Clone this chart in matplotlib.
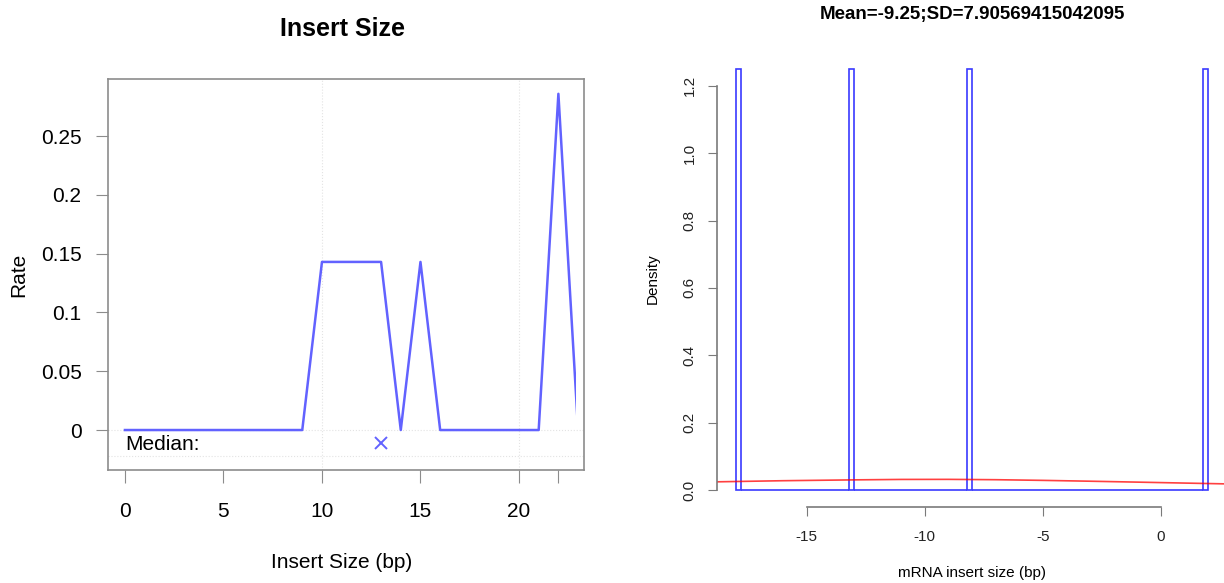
import matplotlib
matplotlib.use('Agg')
import matplotlib.pyplot as plt
import numpy as np
from matplotlib.patches import Rectangle

plt.rcParams['font.family'] = ['Liberation Sans', 'DejaVu Sans']
plt.rcParams['axes.unicode_minus'] = False

# left panel data (rate per insert size)
insert_size = list(range(0, 24))
rate = [0, 0, 0, 0, 0, 0, 0, 0, 0, 0,
        0.143, 0.143, 0.143, 0.143, 0, 0.143, 0,
        0, 0, 0, 0, 0, 0.286, 0]
median_x = 13
median_y = -0.011
left_xticks = [0, 5, 10, 15, 20, 22]
left_xticklabels = ['0', '5', '10', '15', '20', '']
left_yticks = [0, 0.05, 0.1, 0.15, 0.2, 0.25]
left_yticklabels = ['0', '0.05', '0.1', '0.15', '0.2', '0.25']

# right panel data
mrna_insert = [-18, -13, -8, 2]
curve_x = [-18.8, -16, -13, -11, -9, -7, -5, -3, -1, 1, 2.8]
curve_y = [0.0247, 0.028, 0.0305, 0.0318, 0.032, 0.031, 0.029, 0.0265, 0.0238, 0.021, 0.0185]
right_title = 'Mean=-9.25;SD=7.90569415042095'

W, H = 1224, 583
fig = plt.figure(figsize=(W / 100, H / 100), dpi=100)

# ---- left: Insert Size ----
ax1 = fig.add_axes([108 / W, 1 - 470 / H, 476 / W, 391 / H])
ax1.set_xlim(-0.86, 23.3)
ax1.set_ylim(-0.034, 0.2986)
for v in [10, 20]:
    ax1.axvline(v, color='#e3e3e3', ls=':', lw=0.8, zorder=0)
for h in [0, -0.022]:
    ax1.axhline(h, color='#e3e3e3', ls=':', lw=0.8, zorder=0)
line, = ax1.plot(insert_size, rate, color='#6262ff', lw=1.8)
clip = Rectangle((-0.86, -0.034), 22.9 + 0.86, 0.34, transform=ax1.transData)
line.set_clip_path(clip)
ax1.plot(median_x, median_y, marker='x', color='#6262ff', ms=8, mew=1.4, ls='none')
ax1.text(0, -0.0125, 'Median:', fontsize=15, ha='left', va='center')
for s in ax1.spines.values():
    s.set_color('#8c8c8c')
    s.set_linewidth(1.2)
ax1.set_xticks(left_xticks)
ax1.set_xticklabels(left_xticklabels)
ax1.set_yticks(left_yticks)
ax1.set_yticklabels(left_yticklabels)
ax1.tick_params(axis='x', direction='out', length=9, color='#8c8c8c', labelsize=15, pad=14)
ax1.tick_params(axis='y', direction='out', length=9, color='#8c8c8c', labelsize=15, pad=10)

fig.text(342 / W, 1 - 29 / H, 'Insert Size', fontsize=18, fontweight='bold', ha='center', va='center')
fig.text(342 / W, 1 - 562 / H, 'Insert Size (bp)', fontsize=15, ha='center', va='center')
fig.text(19 / W, 1 - 275 / H, 'Rate', fontsize=15, rotation=90, ha='center', va='center')

# ---- right: mRNA insert size histogram ----
ax2 = fig.add_axes([717 / W, 1 - 507 / H, 510 / W, 455 / H])
ax2.set_xlim(-18.8, 2.8)
ax2.set_ylim(-0.05, 1.3)

edges = np.round(np.arange(-18.0, 2.0001, 0.2), 1)
counts, _ = np.histogram(-np.array(mrna_insert), bins=-edges[::-1])
counts = counts[::-1]
dens = counts / (len(mrna_insert) * 0.2)
ax2.bar(edges[:-1], dens, width=0.2, align='edge', fill=False, edgecolor='#3a3aff', lw=1.2)
ax2.plot(curve_x, curve_y, color='red', lw=1.2, alpha=0.75)

ax2.spines['top'].set_visible(False)
ax2.spines['right'].set_visible(False)
ax2.spines['left'].set_bounds(0, 1.2)
ax2.spines['bottom'].set_bounds(-15, 0)
for s in ['left', 'bottom']:
    ax2.spines[s].set_color('#7a7a7a')
    ax2.spines[s].set_linewidth(1.2)
ax2.set_xticks([-15, -10, -5, 0])
ax2.set_yticks([0, 0.2, 0.4, 0.6, 0.8, 1.0, 1.2])
ax2.set_yticklabels(['%.1f' % v for v in [0, 0.2, 0.4, 0.6, 0.8, 1.0, 1.2]], rotation=90, va='center')
ax2.tick_params(axis='both', direction='out', length=6.5, color='#7a7a7a', labelsize=11, labelcolor='#222222')
ax2.tick_params(axis='x', pad=10)
ax2.tick_params(axis='y', pad=8)

fig.text(972 / W, 1 - 14 / H, right_title, fontsize=13.5, fontweight='bold', ha='center', va='center')
fig.text(972 / W, 1 - 573 / H, 'mRNA insert size (bp)', fontsize=11, ha='center', va='center')
fig.text(653 / W, 1 - 279 / H, 'Density', fontsize=11, rotation=90, ha='center', va='center')

fig.savefig('out.png', dpi=100)
